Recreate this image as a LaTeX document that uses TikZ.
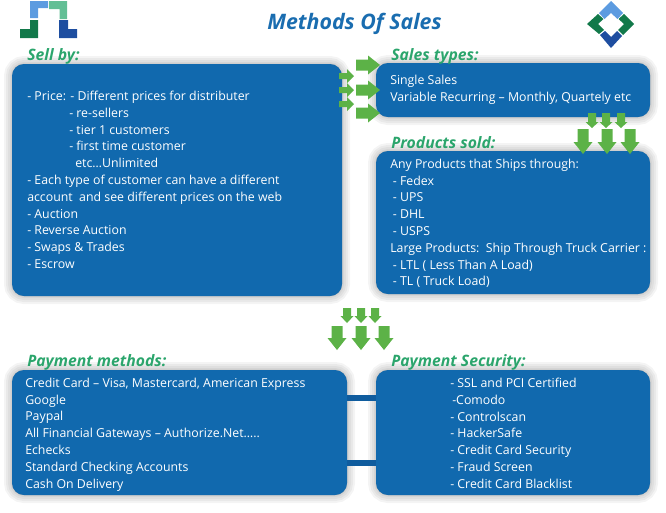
\documentclass[tikz,border=0pt]{standalone}
\usepackage{fontspec}
\setmainfont{Open Sans}
\usetikzlibrary{fit,shadows}
\definecolor{panelblue}{HTML}{1169AE}
\definecolor{linkblue}{HTML}{0F5C9E}
\definecolor{headgreen}{HTML}{2BA56C}
\definecolor{titleblue}{HTML}{1A6DB0}
\definecolor{arrowgreen}{HTML}{5CB247}
\definecolor{lgblue}{HTML}{5C9BE0}
\definecolor{lgteal}{HTML}{62BF95}
\definecolor{lggreen}{HTML}{12794A}
\definecolor{lgnavy}{HTML}{1E4EA0}
\tikzset{
  x=0.75pt,y=-0.75pt,
  softlayer/.style={draw=black,fill=black,line width=#1,opacity=0.045,xshift=2pt,yshift=-3pt},
  panel/.style={fill=panelblue,rounded corners=9pt,inner sep=0pt,
    general shadow={softlayer=12pt},general shadow={softlayer=9pt},general shadow={softlayer=6pt},
    general shadow={softlayer=3pt},general shadow={softlayer=1pt}},
  body/.style={text=white,font=\fontsize{9.25pt}{12.6pt}\selectfont,align=left,anchor=north west,inner sep=0pt},
  heading/.style={text=headgreen,font=\fontsize{11.8pt}{14pt}\selectfont\itshape\bfseries,anchor=west,inner sep=0pt},
  link/.style={draw=linkblue,line width=4.5pt},
  greenarrow/.style={fill=arrowgreen}
}
\newcommand{\rarrow}[6]{\fill[greenarrow] (#1,#2-#5)--(#3,#2-#5)--(#3,#2-#6)--(#4,#2)--(#3,#2+#6)--(#3,#2+#5)--(#1,#2+#5)--cycle;}
\newcommand{\darrow}[6]{\fill[greenarrow] (#1-#5,#2)--(#1+#5,#2)--(#1+#5,#3)--(#1+#6,#3)--(#1,#4)--(#1-#6,#3)--(#1-#5,#3)--cycle;}
\begin{document}
\begin{tikzpicture}
\useasboundingbox (0,0) rectangle (666,512);
% logos
\fill[lgblue] (30,1)--(48,1)--(48,8)--(38,8)--(38,18)--(30,18)--cycle;
\fill[lgteal] (49,1)--(67,1)--(67,19)--(59.5,19)--(59.5,9)--(49,9)--cycle;
\fill[lggreen] (30,20)--(38,20)--(38,38)--(20,38)--(20,29)--(30,29)--cycle;
\fill[lgnavy] (59,20)--(68,20)--(68,29)--(77,29)--(77,38)--(59,38)--cycle;
\fill[lgblue] (611,1)--(623,13)--(617.5,19)--(611,13)--(604.5,19)--(599,13)--cycle;
\fill[lggreen] (624,14)--(634,24)--(623,35)--(618,30)--(624,24)--(618.5,19)--cycle;
\fill[lggreen] (598,14)--(587,24)--(599,34)--(604,30)--(598,24)--(603.5,19)--cycle;
\fill[lgnavy] (600,35)--(611,48)--(622,36)--(617,31)--(611,37)--(605,31)--cycle;
% panels
\node[panel,fit={(12,64)(342,296)}] (sell) {};
\node[panel,fit={(376,63)(650,117)}] (types) {};
\node[panel,fit={(376,151)(650,294)}] (products) {};
\node[panel,fit={(12,370)(347,495)}] (pay) {};
\node[panel,fit={(376,370)(650,495)}] (secure) {};
\coordinate (linka) at (0,398);
\coordinate (linkb) at (0,463);
\draw[link] (pay.east |- linka) -- (secure.west |- linka);
\draw[link] (pay.east |- linkb) -- (secure.west |- linkb);
% headings
\node[text=titleblue,font=\fontsize{16pt}{18pt}\selectfont\itshape\bfseries,inner sep=0pt] (title) at (354.5,24) {Methods Of Sales};
\node[heading] (h1) at (27,56) {Sell by:};
\node[heading] (h2) at (391,56) {Sales types:};
\node[heading] (h3) at (391,143) {Products sold:};
\node[heading] (h4) at (27,362) {Payment methods:};
\node[heading] (h5) at (391,362) {Payment Security:};
% text
\node[body] (t1) at (27,90.7) {- Price: - Different prices for distributer\\
\hspace{31.5pt}- re-sellers\\
\hspace{31.5pt}- tier 1 customers\\
\hspace{31.5pt}- first time customer\\
\hspace{36pt}etc…Unlimited\\
- Each type of customer can have a different\\
account\ \ and see different prices on the web\\
- Auction\\
- Reverse Auction\\
- Swaps \& Trades\\
- Escrow};
\node[body] (t2) at (390,74.7) {Single Sales\\Variable Recurring – Monthly, Quartely etc};
\node[body] (t3) at (390,158.7) {Any Products that Ships through:\\
\hspace{2pt}- Fedex\\
\hspace{2pt}- UPS\\
\hspace{2pt}- DHL\\
\hspace{2pt}- USPS\\
Large Products:\ \ Ship Through Truck Carrier :\\
\hspace{2pt}- LTL ( Less Than A Load)\\
\hspace{2pt}- TL ( Truck Load)};
\node[body] (t4) at (25,377.7) {Credit Card – Visa, Mastercard, American Express\\
Google\\
Paypal\\
All Financial Gateways – Authorize.Net…..\\
Echecks\\
Standard Checking Accounts\\
Cash On Delivery};
\node[body] (t5) at (450,377.7) {- SSL and PCI Certified\\
\hspace{1.5pt}-Comodo\\
- Controlscan\\
- HackerSafe\\
- Credit Card Security\\
- Fraud Screen\\
- Credit Card Blacklist};
% arrows
\rarrow{356}{65}{368}{380}{5.5}{9.5}
\rarrow{356}{90}{368}{380}{5.5}{9.5}
\rarrow{356}{113}{368}{380}{5.5}{9.5}
\rarrow{339}{76}{347}{354}{3}{7}
\rarrow{339}{90}{347}{354}{3}{7}
\rarrow{339}{104}{347}{354}{3}{7}
\darrow{592}{113}{122}{128}{4}{6.5}
\darrow{606}{113}{122}{128}{4}{6.5}
\darrow{621}{113}{122}{128}{4}{6.5}
\darrow{583}{129}{142}{154}{5.5}{9.5}
\darrow{607}{129}{142}{154}{5.5}{9.5}
\darrow{630}{129}{142}{154}{5.5}{9.5}
\darrow{347}{308}{316}{323}{4}{6.5}
\darrow{361}{308}{316}{323}{4}{6.5}
\darrow{375}{308}{316}{323}{4}{6.5}
\darrow{337}{326}{338}{350}{5.5}{9.5}
\darrow{361}{326}{338}{350}{5.5}{9.5}
\darrow{384}{326}{338}{350}{5.5}{9.5}
\end{tikzpicture}
\end{document}
